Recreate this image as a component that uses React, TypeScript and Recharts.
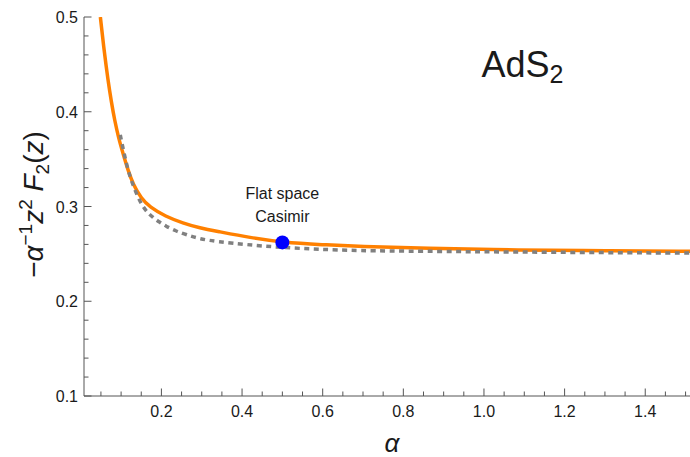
import React from 'react';
import { ComposedChart, Line, XAxis, YAxis, Scatter, ReferenceDot } from 'recharts';

// ---- data ----
const orangeAlpha = [0.0486, 0.058, 0.0676, 0.076, 0.084, 0.094, 0.1048, 0.117, 0.1296, 0.15, 0.171, 0.21, 0.2537, 0.295, 0.34, 0.42, 0.5, 0.6, 0.692, 0.85, 1.09, 1.3, 1.52];
const orangeValue = [0.5, 0.464, 0.433, 0.41, 0.391, 0.372, 0.356, 0.3385, 0.3235, 0.3085, 0.2995, 0.2895, 0.2825, 0.2773, 0.2737, 0.2672, 0.2621, 0.2596, 0.2579, 0.2558, 0.254, 0.2533, 0.2528];

const grayAlpha = [0.098, 0.105, 0.113, 0.121, 0.1296, 0.142, 0.154, 0.165, 0.179, 0.195, 0.212, 0.235, 0.262, 0.295, 0.34, 0.41, 0.4935, 0.59, 0.684, 0.85, 1.07, 1.3, 1.52];
const grayValue = [0.3755, 0.361, 0.3457, 0.333, 0.3225, 0.3095, 0.3, 0.2938, 0.2885, 0.2835, 0.279, 0.2743, 0.2702, 0.2658, 0.2628, 0.2598, 0.2568, 0.2548, 0.2534, 0.2527, 0.252, 0.2513, 0.2508];

const flatAlpha = [0.5];
const flatValue = [0.2621];

const xTicks = [0.05, 0.1, 0.15, 0.2, 0.25, 0.3, 0.35, 0.4, 0.45, 0.5, 0.55, 0.6, 0.65, 0.7, 0.75, 0.8, 0.85, 0.9, 0.95, 1.0, 1.05, 1.1, 1.15, 1.2, 1.25, 1.3, 1.35, 1.4, 1.45, 1.5];
const xMajor = [0.2, 0.4, 0.6, 0.8, 1.0, 1.2, 1.4];
const yTicks = [0.1, 0.12, 0.14, 0.16, 0.18, 0.2, 0.22, 0.24, 0.26, 0.28, 0.3, 0.32, 0.34, 0.36, 0.38, 0.4, 0.42, 0.44, 0.46, 0.48, 0.5];
const yMajor = [0.1, 0.2, 0.3, 0.4, 0.5];

const xDomain = [0.008, 1.511];
const yDomain = [0.1, 0.5];

const orangeData = orangeAlpha.map((a, i) => ({ alpha: a, value: orangeValue[i] }));
const grayData = grayAlpha.map((a, i) => ({ alpha: a, value: grayValue[i] }));
const flatData = flatAlpha.map((a, i) => ({ alpha: a, value: flatValue[i] }));

const FONT = "'Liberation Sans', Arial, sans-serif";
const AXIS = '#555';
const TEXT = '#1a1a1a';

const isMajor = (v: number, list: number[]) => list.some((m) => Math.abs(m - v) < 1e-6);

const BottomTick = (props: any) => {
  const { x, y, payload } = props;
  const v = payload.value;
  const major = isMajor(v, xMajor);
  return (
    <g>
      <line x1={x} x2={x} y1={y} y2={y - (major ? 7.5 : 4.5)} stroke={AXIS} strokeWidth={1} />
      {major && (
        <text x={x} y={y + 21} textAnchor="middle" fontSize={16} fill={TEXT} fontFamily={FONT}>
          {v.toFixed(1)}
        </text>
      )}
    </g>
  );
};

const TopTick = (props: any) => {
  const { x, y, payload } = props;
  const major = isMajor(payload.value, xMajor);
  return <line x1={x} x2={x} y1={y} y2={y + (major ? 7.5 : 4.5)} stroke={AXIS} strokeWidth={1} />;
};

const LeftTick = (props: any) => {
  const { x, y, payload } = props;
  const v = payload.value;
  const major = isMajor(v, yMajor);
  return (
    <g>
      <line x1={x} x2={x + (major ? 7.5 : 4.5)} y1={y} y2={y} stroke={AXIS} strokeWidth={1} />
      {major && (
        <text x={x - 6} y={y + 6} textAnchor="end" fontSize={16} fill={TEXT} fontFamily={FONT}>
          {v.toFixed(1)}
        </text>
      )}
    </g>
  );
};

const YLabel = (props: any) => {
  const vb = props.viewBox;
  const cx = vb.x + 43;
  const cy = vb.y + vb.height / 2 - 2;
  const fs = 28;
  const sm = 19;
  return (
    <text transform={`translate(${cx},${cy}) rotate(-90)`} textAnchor="middle" fontSize={fs} fill={TEXT} fontFamily={FONT}>
      <tspan>−</tspan>
      <tspan fontStyle="italic">α</tspan>
      <tspan fontSize={sm} dy={-11}>−1</tspan>
      <tspan fontStyle="italic" dy={11}>z</tspan>
      <tspan fontSize={sm} dy={-11}>2</tspan>
      <tspan dy={11}> </tspan>
      <tspan fontStyle="italic">F</tspan>
      <tspan fontSize={sm} dy={6}>2</tspan>
      <tspan dy={-6}>(</tspan>
      <tspan fontStyle="italic">z</tspan>
      <tspan>)</tspan>
    </text>
  );
};

const XLabel = (props: any) => {
  const vb = props.viewBox;
  return (
    <text x={vb.x + vb.width / 2 + 5} y={vb.y + 56} textAnchor="middle" fontSize={26} fontStyle="italic" fill={TEXT} fontFamily={FONT}>
      α
    </text>
  );
};

const FlatLabel = (props: any) => {
  const { cx, cy } = props;
  return (
    <g>
      <text x={cx} y={cy - 43.4} textAnchor="middle" fontSize={16} fill={TEXT} fontFamily={FONT}>Flat space</text>
      <text x={cx} y={cy - 20} textAnchor="middle" fontSize={16} fill={TEXT} fontFamily={FONT}>Casimir</text>
    </g>
  );
};

const AdsLabel = (props: any) => {
  const { cx, cy } = props;
  return (
    <text x={cx} y={cy} textAnchor="start" fontSize={36} fill={TEXT} fontFamily={FONT}>
      AdS
      <tspan fontSize={25} dy={6}>2</tspan>
    </text>
  );
};

const BlueDot = (props: any) => {
  const { cx, cy } = props;
  return <circle cx={cx} cy={cy} r={7} fill="#0000FF" />;
};

export default function App() {
  return (
    <div style={{ position: 'absolute', left: 0, top: 0, width: 690, height: 457, background: '#fff' }}>
      <ComposedChart width={690} height={457} margin={{ top: 17, right: 0, bottom: 0, left: 0 }}>
        <XAxis
          dataKey="alpha"
          type="number"
          domain={xDomain}
          allowDataOverflow
          ticks={xTicks}
          interval={0}
          tickSize={0}
          tickMargin={0}
          tickLine={false}
          tick={<BottomTick />}
          height={61}
          stroke={AXIS}
          label={<XLabel />}
        />
        <XAxis
          xAxisId="top"
          orientation="top"
          type="number"
          domain={xDomain}
          allowDataOverflow
          ticks={xTicks}
          interval={0}
          tickSize={0}
          tickMargin={0}
          tickLine={false}
          tick={<TopTick />}
          height={0}
          stroke={AXIS}
        />
        <YAxis
          dataKey="value"
          type="number"
          domain={yDomain}
          allowDataOverflow
          ticks={yTicks}
          interval={0}
          tickSize={0}
          tickMargin={0}
          tickLine={false}
          tick={<LeftTick />}
          width={84}
          stroke={AXIS}
          label={<YLabel />}
        />
        <Line data={orangeData} dataKey="value" type="basis" stroke="#FF8000" strokeWidth={3.5} dot={false} isAnimationActive={false} />
        <Line data={grayData} dataKey="value" type="basis" stroke="#808080" strokeWidth={3.5} strokeDasharray="5 4.5" dot={false} isAnimationActive={false} />
        <Scatter data={flatData} dataKey="value" shape={<BlueDot />} isAnimationActive={false} />
        <ReferenceDot x={flatAlpha[0]} y={flatValue[0]} r={0} shape={<FlatLabel />} />
        <ReferenceDot x={0.994} y={0.4362} r={0} shape={<AdsLabel />} ifOverflow="visible" />
      </ComposedChart>
    </div>
  );
}
